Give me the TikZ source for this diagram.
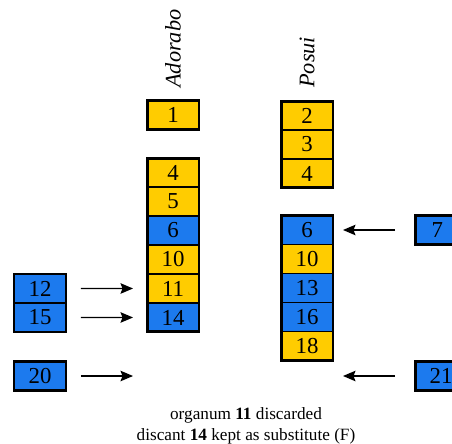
\documentclass[tikz,border=0pt]{standalone}
\usepackage{fontspec}
\setmainfont{Liberation Serif}
\usetikzlibrary{positioning,arrows.meta}

\definecolor{cellyellow}{RGB}{255,204,0}
\definecolor{cellblue}{RGB}{28,122,238}

\begin{document}
\begin{tikzpicture}[x=0.02cm,y=-0.02cm,
    cell/.style={draw,line width=0.7pt,minimum width=1.04cm,minimum height=0.58cm,
      inner sep=0pt,outer sep=0pt,font=\fontsize{13}{13}\selectfont},
    yel/.style={cell,fill=cellyellow},
    blu/.style={cell,fill=cellblue},
    lone/.style={line width=1.7pt},
    frame/.style={line width=1.7pt},
    voice/.style={rotate=90,anchor=west,inner sep=0pt,font=\itshape\fontsize{12.7}{12.7}\selectfont},
    push/.style={-{Stealth[length=0.25cm,width=0.21cm,inset=0.04cm]},line width=0.8pt}]
  \useasboundingbox (0,0) rectangle (452,443);

  \node[voice] (lAdorabo) at (173,88) {Adorabo};
  \node[voice] (lPosui) at (307,88) {Posui};

  % first voice
  \node[yel,lone] (a1) at (173,115) {1};
  \node[yel] (a4) at (173,172.5) {4};
  \node[yel,below=0pt of a4] (a5) {5};
  \node[blu,below=0pt of a5] (a6) {6};
  \node[yel,below=0pt of a6] (a10) {10};
  \node[yel,below=0pt of a10] (a11) {11};
  \node[blu,below=0pt of a11] (a14) {14};
  \draw[frame] (a4.north west) rectangle (a14.south east);

  % second voice
  \node[yel] (c2) at (307,115.5) {2};
  \node[yel,below=0pt of c2] (c3) {3};
  \node[yel,below=0pt of c3] (c4) {4};
  \draw[frame] (c2.north west) rectangle (c4.south east);

  \node[blu] (c6) at (307,230) {6};
  \node[yel,below=0pt of c6] (c10) {10};
  \node[blu,below=0pt of c10] (c13) {13};
  \node[blu,below=0pt of c13] (c16) {16};
  \node[yel,below=0pt of c16] (c18) {18};
  \draw[frame] (c6.north west) rectangle (c18.south east);

  % incoming notes
  \node[blu] (b12) at (40,288.5) {12};
  \node[blu,below=0pt of b12] (b15) {15};
  \draw[frame] (b12.north west) -- (b15.south west);
  \draw[frame] (b12.north east) -- (b15.south east);
  \node[blu,lone] (b20) at (40,376) {20};
  \node[blu,lone] (b7) at (441,230) {\hspace{-0.15cm}7};
  \node[blu,lone] (b21) at (441,376) {21};

  \draw[push] ([xshift=0.3cm]b12.east) -- ([xshift=-0.28cm]a11.west);
  \draw[push] ([xshift=0.3cm]b15.east) -- ([xshift=-0.28cm]a14.west);
  \draw[push] ([xshift=0.3cm]b20.east) -- ([xshift=-0.28cm]a14.west |- b20.east);
  \draw[push] ([xshift=-0.4cm]b7.west) -- ([xshift=0.2cm]c6.east);
  \draw[push] ([xshift=-0.4cm]b21.west) -- ([xshift=0.2cm]c18.east |- b21.west);

  \node[align=center,font=\fontsize{9.8}{12}\selectfont] (note) at (246,426)
    {organum \textbf{11} discarded\\discant \textbf{14} kept as substitute (F)};
\end{tikzpicture}
\end{document}
